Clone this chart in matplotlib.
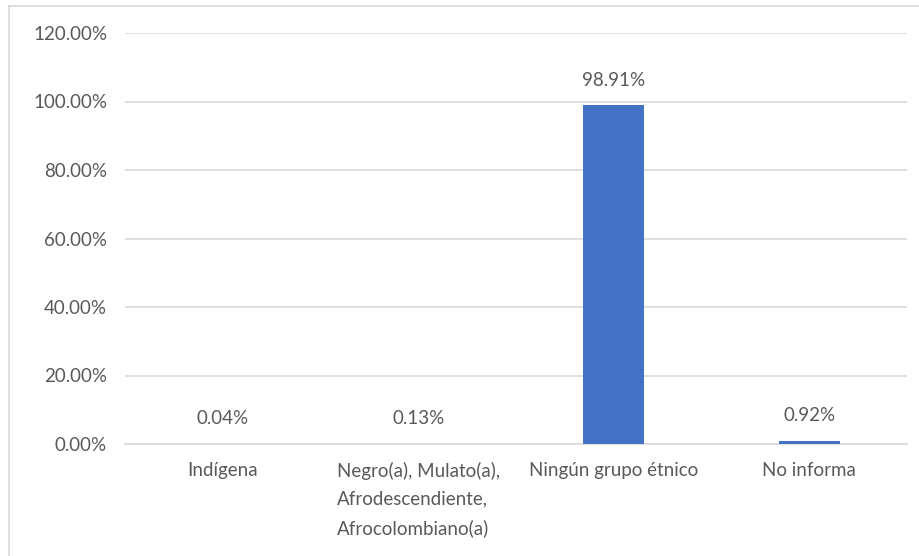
import matplotlib.pyplot as plt
from matplotlib.lines import Line2D
from matplotlib.ticker import FuncFormatter

categories = [
    "Indígena",
    "Negro(a), Mulato(a),\nAfrodescendiente,\nAfrocolombiano(a)",
    "Ningún grupo étnico",
    "No informa",
]
values = [0.04, 0.13, 98.91, 0.92]
value_labels = ["0.04%", "0.13%", "98.91%", "0.92%"]
y_ticks = [0, 20, 40, 60, 80, 100, 120]

text_color = "#595959"
grid_color = "#d9d9d9"
bar_color = "#4472C4"

plt.rcParams["font.family"] = ["Lato", "DejaVu Sans"]
fs = 13.5

fig = plt.figure(figsize=(9.2, 5.56), dpi=100)
ax = fig.add_axes([125 / 920, 1 - 444 / 556, 782 / 920, 411 / 556])

x = list(range(len(categories)))
ax.bar(x, values, width=0.31, color=bar_color, zorder=3)

ax.set_xlim(-0.5, len(categories) - 0.5)
ax.set_ylim(0, 120)
ax.set_yticks(y_ticks)
ax.yaxis.set_major_formatter(FuncFormatter(lambda v, p: f"{v:.2f}%"))
ax.set_xticks(x)
ax.set_xticklabels(categories, linespacing=1.75, va="top", multialignment="left")

ax.grid(axis="y", color=grid_color, linewidth=1.2, zorder=0)
ax.tick_params(axis="y", length=0, pad=13, labelsize=fs, labelcolor=text_color)
ax.tick_params(axis="x", length=0, pad=13, labelsize=fs, labelcolor=text_color)
for side in ["top", "right", "left"]:
    ax.spines[side].set_visible(False)
ax.spines["bottom"].set_color(grid_color)
ax.spines["bottom"].set_linewidth(1.2)

for xi, v, lab in zip(x, values, value_labels):
    ax.annotate(lab, (xi, v), xytext=(0, 18), textcoords="offset points",
                ha="center", va="center", fontsize=fs, color=text_color)

# outer chart border (left and top visible)
fig.add_artist(Line2D([8.5 / 920, 8.5 / 920], [0, 1 - 5.5 / 556],
                      transform=fig.transFigure, color=grid_color, linewidth=1.2))
fig.add_artist(Line2D([8.5 / 920, 1], [1 - 5.5 / 556, 1 - 5.5 / 556],
                      transform=fig.transFigure, color=grid_color, linewidth=1.2))

fig.savefig("out.png", dpi=100)
